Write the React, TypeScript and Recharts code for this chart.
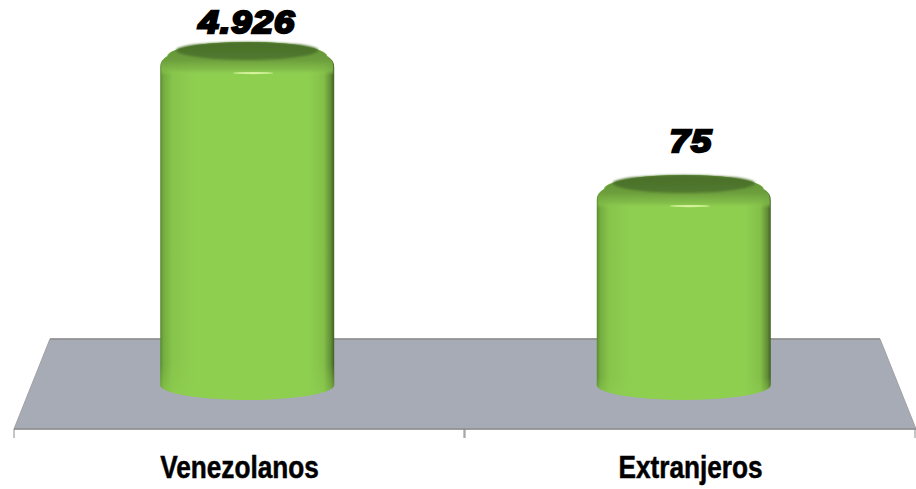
import React from "react";
import { BarChart, Bar, XAxis, YAxis, LabelList, ReferenceArea } from "recharts";

const categories = ["Venezolanos", "Extranjeros"];
const values = [4926, 75];
const valueLabels = ["4.926", "75"];

const chartData = categories.map((name, i) => ({ name, value: values[i], label: valueLabels[i] }));

const WIDTH = 916;
const HEIGHT = 489;
const PLOT_LEFT = 14;
const PLOT_WIDTH = WIDTH - PLOT_LEFT;

// axis is logarithmic, floor goes up to this value on it
const AXIS_MIN = 0.173;
const AXIS_MAX = 92000;
const FLOOR_TOP = 2.94;

const BAR_LIFT = 44; // bars stand in the middle of the floor depth
const FLOOR_INSET = 36;

// fake 3D: bars lean toward the middle of the floor
const perspectiveShift = (cx: number) => (PLOT_LEFT + PLOT_WIDTH / 2 - cx) * 0.032;

function Floor(props: any) {
  const { x, y, width, height } = props;
  const back = `M${x + FLOOR_INSET},${y} L${x + width - FLOOR_INSET},${y}`;
  const front = `L${x + width},${y + height} L${x},${y + height} Z`;
  return (
    <g>
      <path d={`${back} ${front}`} fill="#a6abb5" stroke="#a0a0a0" strokeWidth={1} />
      <path d={back} stroke="#8e8e8e" strokeWidth={1.5} fill="none" />
      <path d={`M${x},${y + height} L${x + width},${y + height}`} stroke="#8e8e8e" strokeWidth={1.5} fill="none" />
    </g>
  );
}

function Cylinder(props: any) {
  const { x, y, width, height } = props;
  const cx = x + width / 2;
  const mid = cx + perspectiveShift(cx);
  const rx = width / 2;
  const left = mid - rx;
  const right = mid + rx;
  const rim = y - BAR_LIFT;
  const base = y + height - BAR_LIFT;
  const bottomRy = 15;

  const body = `M${left},${rim + 8} Q${left},${rim + 1} ${left + 7},${rim - 3} A${rx - 7},14 0 0 1 ${right - 7},${rim - 3} Q${right},${rim + 1} ${right},${rim + 8} L${right},${base} A${rx},${bottomRy} 0 0 1 ${left},${base} Z`;
  const lens = `M${left + 16},${rim - 9} A${rx - 16},8 0 0 1 ${right - 16},${rim - 9} A${rx - 16},10 0 0 1 ${left + 16},${rim - 9} Z`;

  return (
    <g>
      <path d={body} fill="url(#cylSide)" />
      <path d={body} fill="url(#cylFoot)" />
      <path
        d={`M${left + 1},${rim + 16} L${left + 1},${rim + 7} Q${left + 1},${rim + 1} ${left + 8},${rim - 3} A${rx - 8},14 0 0 1 ${right - 8},${rim - 3} Q${right - 1},${rim + 1} ${right - 1},${rim + 7} L${right - 1},${rim + 16} Z`}
        fill="url(#cylShoulder)"
      />
      <path d={lens} fill="url(#cylTop)" filter="url(#softEdge)" />
      <ellipse cx={mid + 6} cy={rim + 14} rx={20} ry={1.1} fill="#d4f29a" />
    </g>
  );
}

const labelDx = [7, 0];
const labelAbove = [70, 84];

function ValueLabel(props: any) {
  const { x, y, width, index, value } = props;
  const tx = x + width / 2 + labelDx[index];
  const ty = y - labelAbove[index];
  return (
    <text
      transform={`translate(${tx},${ty}) scale(1.14,1)`}
      textAnchor="middle"
      fontFamily="'Liberation Sans', Arial, sans-serif"
      fontWeight={700}
      fontStyle="italic"
      fontSize={32}
      letterSpacing={1}
      fill="#000"
      stroke="#000"
      strokeWidth={2.4}
    >
      {value}
    </text>
  );
}

function CategoryTick(props: any) {
  const { x, y, payload } = props;
  const half = PLOT_WIDTH / categories.length / 2;
  return (
    <g>
      <line x1={x - half} x2={x - half} y1={y - 8} y2={y + 1} stroke="#8c8c8c" />
      <line x1={x + half - 1} x2={x + half - 1} y1={y - 8} y2={y + 1} stroke="#8c8c8c" />
      <text
        transform={`translate(${x},478) scale(0.845,1)`}
        textAnchor="middle"
        fontFamily="'Liberation Sans', Arial, sans-serif"
        fontWeight={700}
        fontSize={31}
        fill="#000"
        stroke="#000"
        strokeWidth={0.5}
      >
        {payload.value}
      </text>
    </g>
  );
}

export default function App() {
  return (
    <div style={{ position: "absolute", left: 0, top: 0, width: WIDTH, height: HEIGHT, background: "#fff" }}>
      <BarChart
        width={WIDTH}
        height={HEIGHT}
        data={chartData}
        margin={{ top: 10, right: 0, left: PLOT_LEFT, bottom: 0 }}
      >
        <defs>
          <filter id="softEdge" x="-5%" y="-20%" width="110%" height="140%">
            <feGaussianBlur stdDeviation="1" />
          </filter>
          <linearGradient id="cylSide" x1="0" y1="0" x2="1" y2="0">
            <stop offset="0%" stopColor="#5a8a32" />
            <stop offset="2%" stopColor="#74ad40" />
            <stop offset="7%" stopColor="#87c44b" />
            <stop offset="20%" stopColor="#8ecf50" />
            <stop offset="85%" stopColor="#8ecf50" />
            <stop offset="94%" stopColor="#83bf49" />
            <stop offset="98%" stopColor="#628f36" />
            <stop offset="100%" stopColor="#3f5f24" />
          </linearGradient>
          <linearGradient id="cylFoot" x1="0" y1="0" x2="0" y2="1">
            <stop offset="90%" stopColor="#8ecf50" stopOpacity={0} />
            <stop offset="100%" stopColor="#8ecf50" stopOpacity={0.7} />
          </linearGradient>
          <linearGradient id="cylShoulder" x1="0" y1="0" x2="0" y2="1">
            <stop offset="0%" stopColor="#608f36" />
            <stop offset="55%" stopColor="#6d9f3d" />
            <stop offset="85%" stopColor="#80ba48" stopOpacity={0.8} />
            <stop offset="100%" stopColor="#8ecf50" stopOpacity={0} />
          </linearGradient>
          <linearGradient id="cylTop" x1="0" y1="0" x2="0" y2="1">
            <stop offset="0%" stopColor="#4a6f2b" />
            <stop offset="100%" stopColor="#527a2e" />
          </linearGradient>
        </defs>
        <XAxis
          dataKey="name"
          height={60}
          stroke="#8c8c8c"
          axisLine={false}
          tickLine={false}
          interval={0}
          tick={<CategoryTick />}
        />
        <YAxis hide width={0} type="number" scale="log" domain={[AXIS_MIN, AXIS_MAX]} allowDataOverflow />
        <ReferenceArea y1={AXIS_MIN} y2={FLOOR_TOP} shape={<Floor />} ifOverflow="visible" />
        <Bar dataKey="value" barSize={174} shape={<Cylinder />} isAnimationActive={false}>
          <LabelList dataKey="label" content={<ValueLabel />} />
        </Bar>
      </BarChart>
    </div>
  );
}
